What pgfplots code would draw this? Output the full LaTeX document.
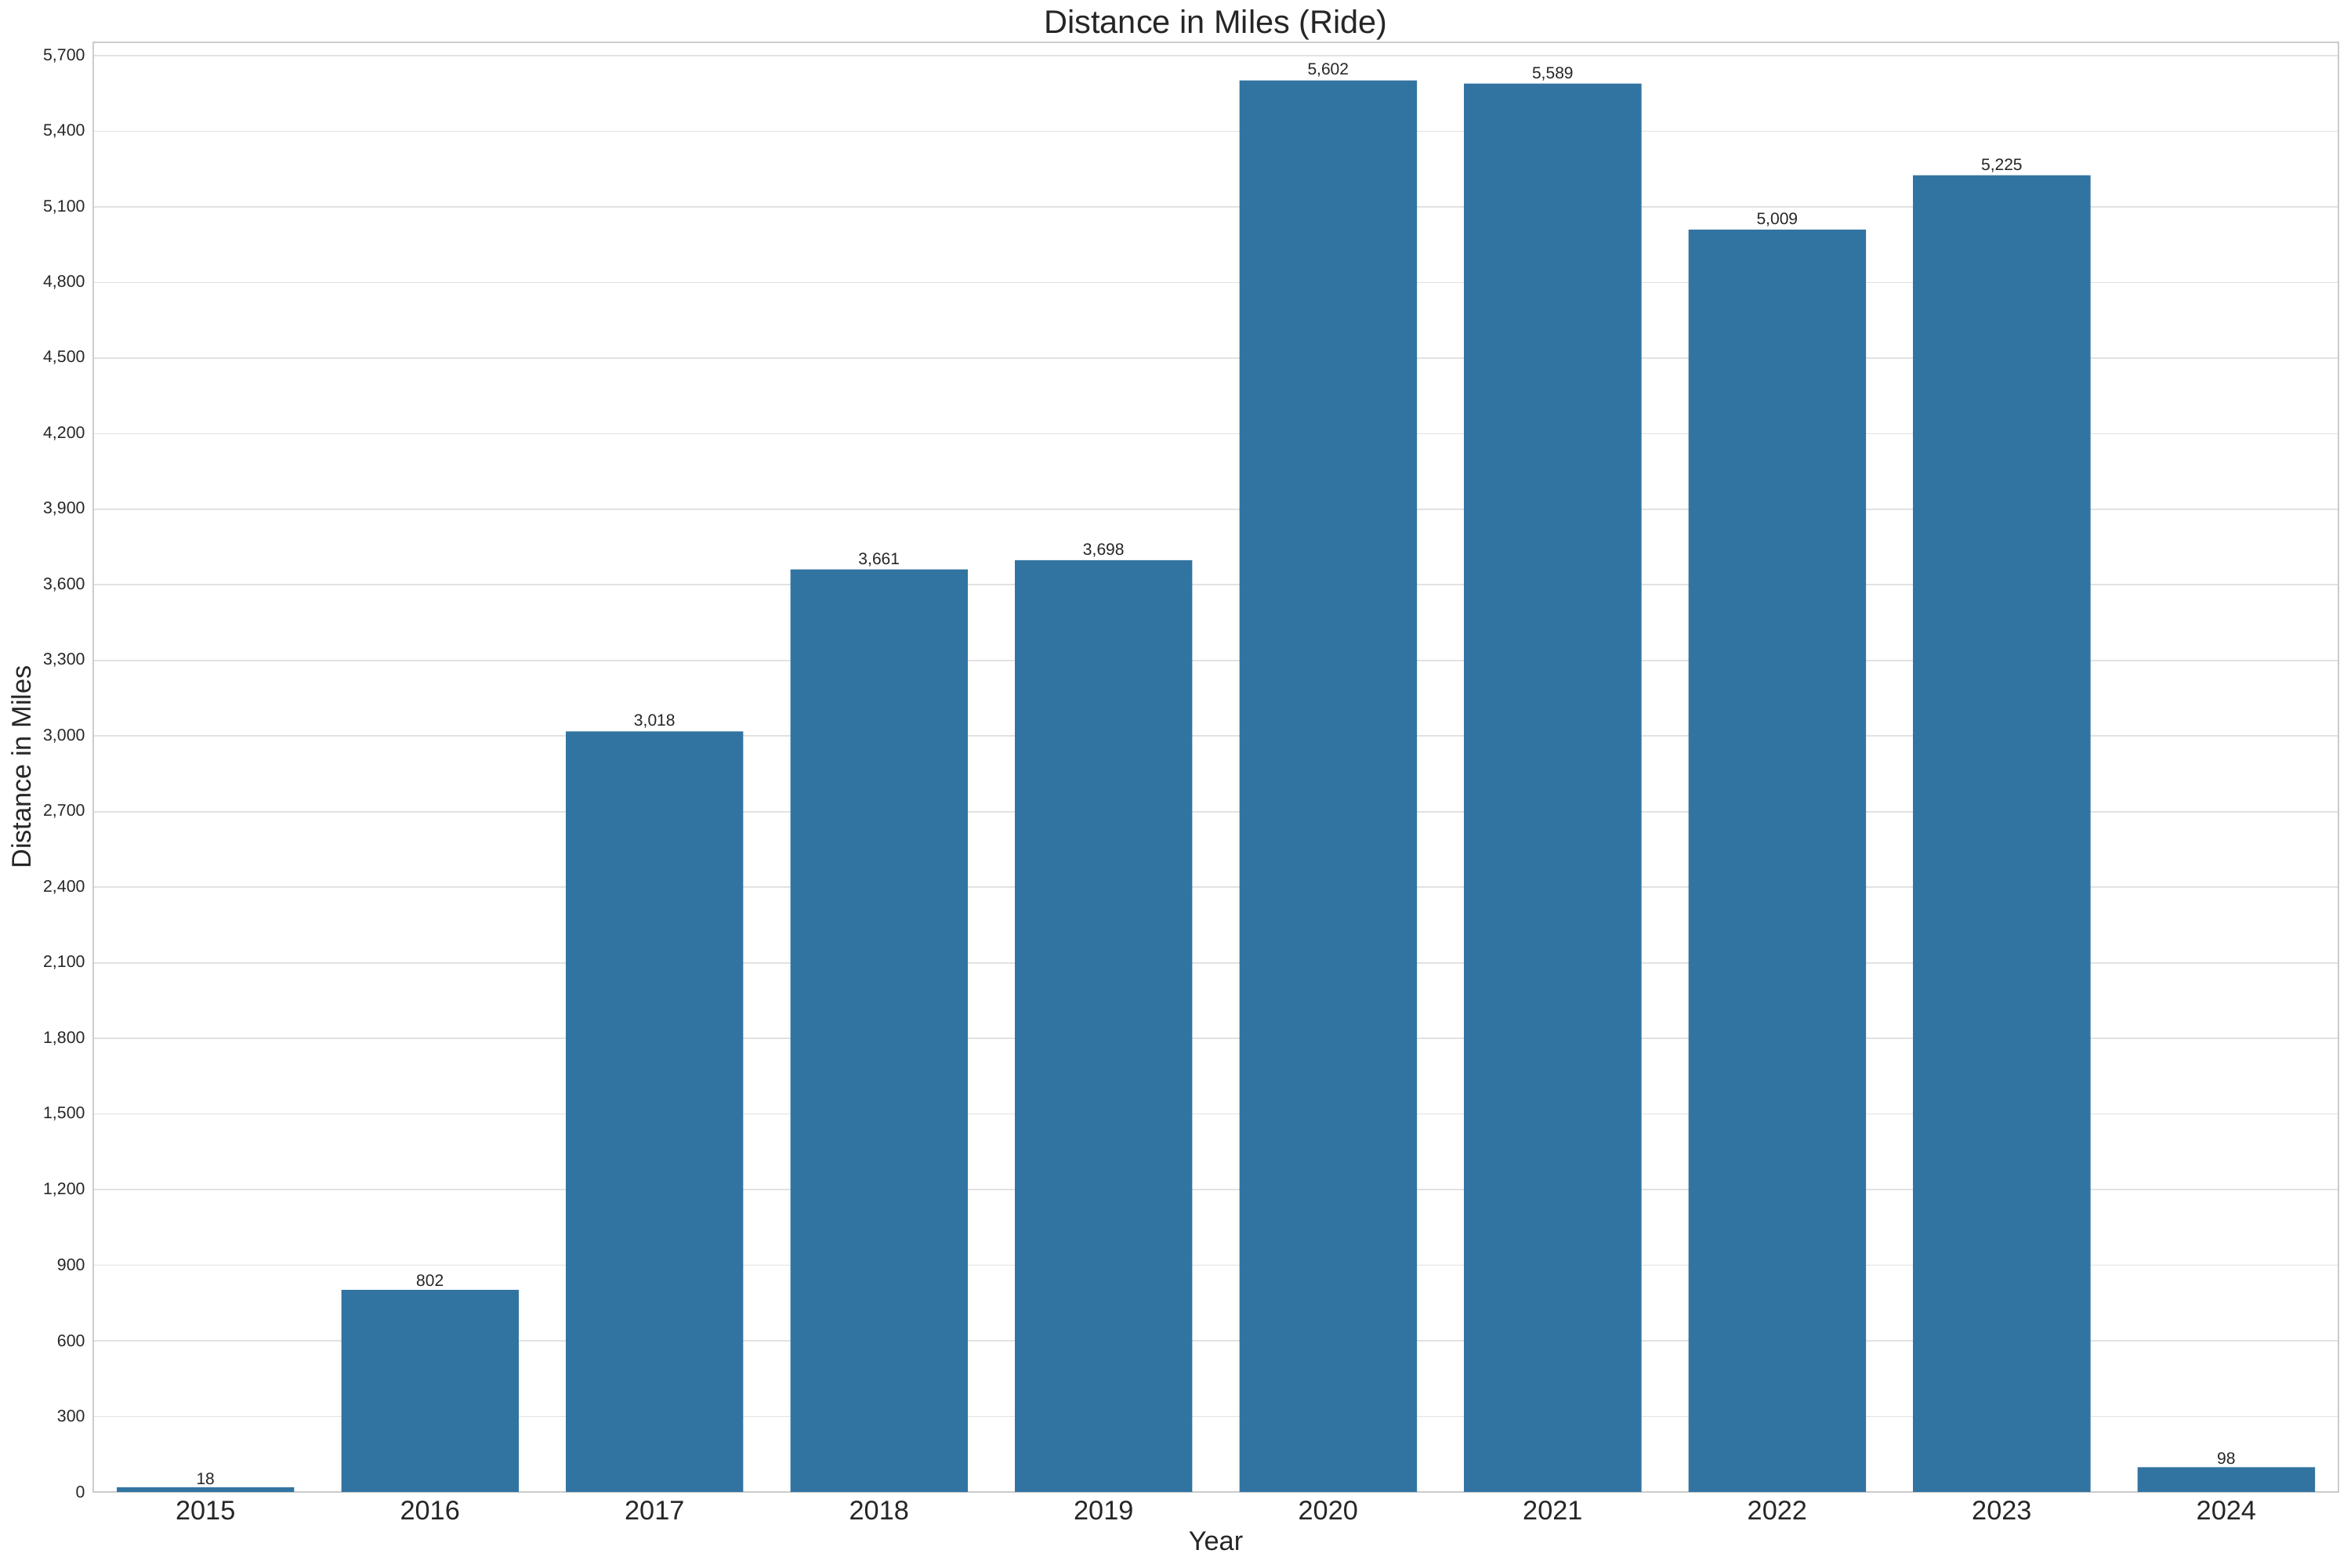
\documentclass[border=0pt]{standalone}
\usepackage{fontspec}
\setmainfont{Liberation Sans}
\usepackage{pgfplots}
\pgfplotsset{compat=1.18}
\definecolor{barblue}{HTML}{3274A1}
\definecolor{txt}{HTML}{262626}
\definecolor{gridc}{HTML}{E2E2E2}
\definecolor{framec}{HTML}{CCCCCC}
\begin{document}
\begin{tikzpicture}
\useasboundingbox (-43pt,-34.7pt) rectangle (1041.2pt,688.1pt);
\begin{axis}[
  scale only axis, width=1035.4pt, height=668.6pt,
  at={(0,0)}, anchor=south west,
  xmin=-0.5, xmax=9.5, ymin=0, ymax=5753,
  ybar, bar width=0.79,
  xtick={0,1,2,3,4,5,6,7,8,9},
  xticklabels={2015,2016,2017,2018,2019,2020,2021,2022,2023,2024},
  ytick={0,300,...,5700},
  major tick length=0pt,
  ymajorgrids, grid style={gridc, line width=0.6pt},
  axis line style={framec, line width=0.8pt},
  /pgf/number format/1000 sep={,},
  /pgf/number format/assume math mode=true,
  xticklabel style={font=\fontsize{12.4}{14}\selectfont, color=txt, anchor=center, yshift=-8.7pt},
  yticklabel style={font=\fontsize{7.7}{9}\selectfont, color=txt, anchor=east, inner sep=0pt, xshift=-3.6pt},
  title={Distance in Miles (Ride)},
  every axis title/.style={font=\fontsize{15}{18}\selectfont, color=txt, at={(axis description cs:0.5,1)}, anchor=center, yshift=8.1pt},
  xlabel={Year},
  every axis x label/.style={font=\fontsize{12.4}{14}\selectfont, color=txt, at={(axis description cs:0.5,0)}, anchor=center, yshift=-22.8pt},
  ylabel={Distance in Miles},
  every axis y label/.style={font=\fontsize{12.4}{14}\selectfont, color=txt, at={(axis description cs:0,0.5)}, anchor=center, xshift=-33pt, rotate=90},
  nodes near coords,
  nodes near coords style={font=\fontsize{7.6}{9}\selectfont, color=txt, inner sep=1.2pt},
]
\addplot[fill=barblue, draw=none] coordinates {
  (0,18) (1,802) (2,3018) (3,3661) (4,3698) (5,5602) (6,5589) (7,5009) (8,5225) (9,98)
};
\end{axis}
\end{tikzpicture}
\end{document}
